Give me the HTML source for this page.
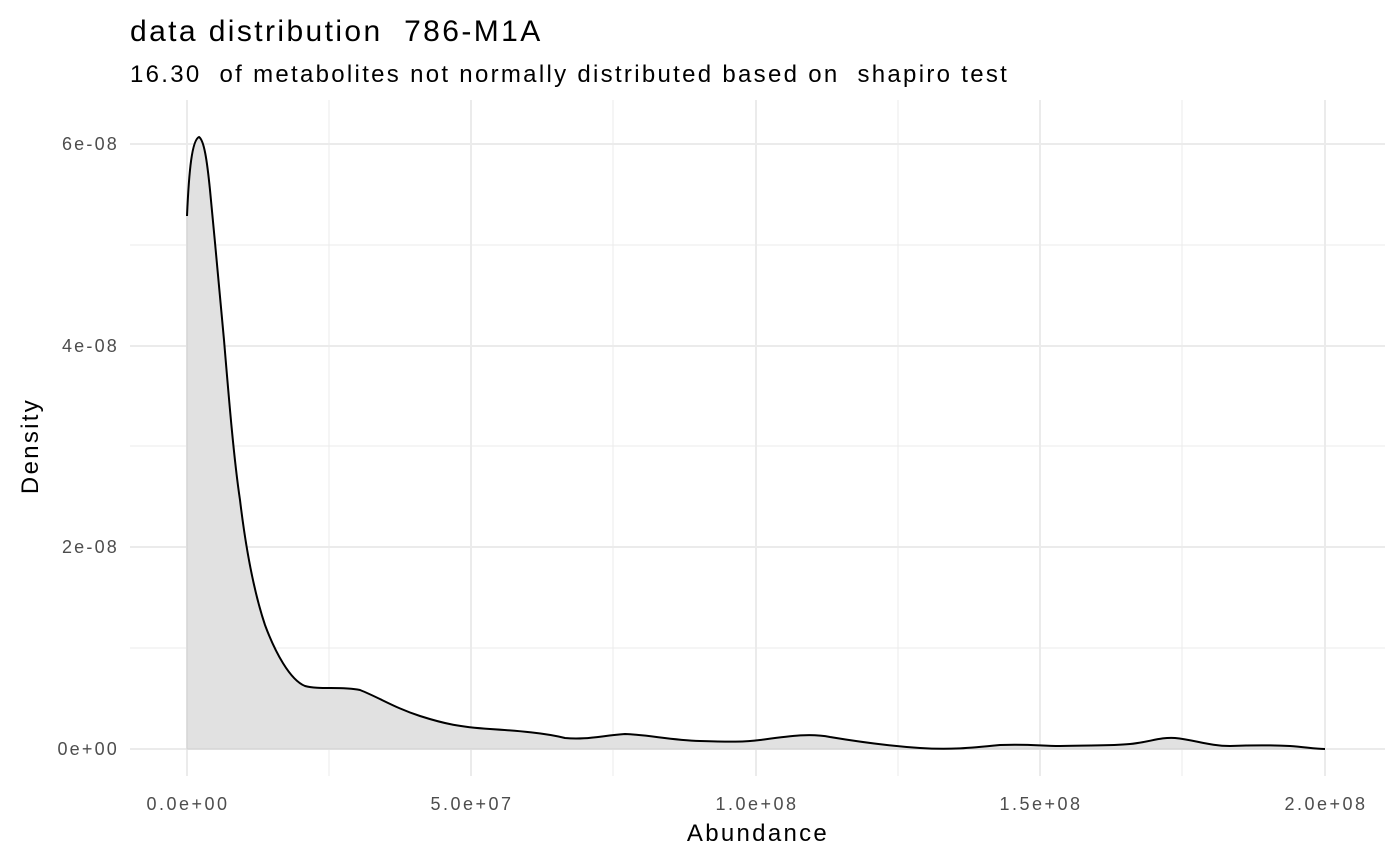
<!DOCTYPE html>
<html><head><style>body{margin:0;background:#fff;}svg{display:block;font-family:"Liberation Sans",sans-serif;}text{white-space:pre;}</style></head>
<body>
<svg width="1400" height="866" viewBox="0 0 1400 866" xml:space="preserve">
<rect width="1400" height="866" fill="#fff"/>
<g stroke="#ebebeb" stroke-width="1">
<line x1="130" x2="1385" y1="648" y2="648"/><line x1="130" x2="1385" y1="446" y2="446"/><line x1="130" x2="1385" y1="245" y2="245"/>
<line x1="329" x2="329" y1="100" y2="776"/><line x1="613" x2="613" y1="100" y2="776"/><line x1="898" x2="898" y1="100" y2="776"/><line x1="1182" x2="1182" y1="100" y2="776"/>
</g>
<g stroke="#ebebeb" stroke-width="2">
<line x1="130" x2="1385" y1="749" y2="749"/><line x1="130" x2="1385" y1="547" y2="547"/><line x1="130" x2="1385" y1="346" y2="346"/><line x1="130" x2="1385" y1="144" y2="144"/>
<line x1="187" x2="187" y1="100" y2="776"/><line x1="471" x2="471" y1="100" y2="776"/><line x1="756" x2="756" y1="100" y2="776"/><line x1="1040" x2="1040" y1="100" y2="776"/><line x1="1325" x2="1325" y1="100" y2="776"/>
</g>
<path id="c" d="M187,216 C189,170 192,140 199,137 C204,140 207,160 210,190 C215,240 220,300 224,340 C229,400 234,460 240,500 C246,550 255,595 265,625 C275,652 290,680 305,686 C320,690 340,686 360,690 C380,698 395,708 420,716 C445,724 460,727 490,729 C520,731 545,733 565,738 C585,740 600,736 625,734 C650,735 670,740 700,741 C730,742 745,742 760,740 C790,736 810,733 830,737 C860,742 890,746 920,748 C950,750 970,748 1000,745 C1030,744 1040,746 1060,746 C1090,745 1110,746 1130,744 C1150,742 1160,737 1175,738 C1195,740 1210,746 1230,746 C1255,745 1270,745 1290,746 C1305,747 1315,749 1325,749" fill="none"/>
<path d="M187,749 L187,216 C189,170 192,140 199,137 C204,140 207,160 210,190 C215,240 220,300 224,340 C229,400 234,460 240,500 C246,550 255,595 265,625 C275,652 290,680 305,686 C320,690 340,686 360,690 C380,698 395,708 420,716 C445,724 460,727 490,729 C520,731 545,733 565,738 C585,740 600,736 625,734 C650,735 670,740 700,741 C730,742 745,742 760,740 C790,736 810,733 830,737 C860,742 890,746 920,748 C950,750 970,748 1000,745 C1030,744 1040,746 1060,746 C1090,745 1110,746 1130,744 C1150,742 1160,737 1175,738 C1195,740 1210,746 1230,746 C1255,745 1270,745 1290,746 C1305,747 1315,749 1325,749 Z" fill="#e1e1e1" stroke="#d0d0d0" stroke-width="1"/>
<use href="#c" stroke="#000" stroke-width="2"/>
<g font-size="18" fill="#4d4d4d" text-anchor="end" letter-spacing="2.2">
<text x="119" y="755">0e+00</text><text x="119" y="553">2e-08</text><text x="119" y="352">4e-08</text><text x="119" y="150">6e-08</text>
</g>
<g font-size="18" fill="#4d4d4d" text-anchor="middle" letter-spacing="2.5">
<text x="188" y="810">0.0e+00</text><text x="472" y="810">5.0e+07</text><text x="757" y="810">1.0e+08</text><text x="1041" y="810">1.5e+08</text><text x="1326" y="810">2.0e+08</text>
</g>
<text x="758" y="841" font-size="24" text-anchor="middle" letter-spacing="2.3">Abundance</text>
<text transform="translate(38,446) rotate(-90)" font-size="24" text-anchor="middle" letter-spacing="2.3">Density</text>
<text x="130" y="41" font-size="30" letter-spacing="2.4">data distribution  786-M1A</text>
<text x="130" y="82" font-size="24" letter-spacing="2.3">16.30  of metabolites not normally distributed based on  shapiro test</text>
</svg>
</body></html>
